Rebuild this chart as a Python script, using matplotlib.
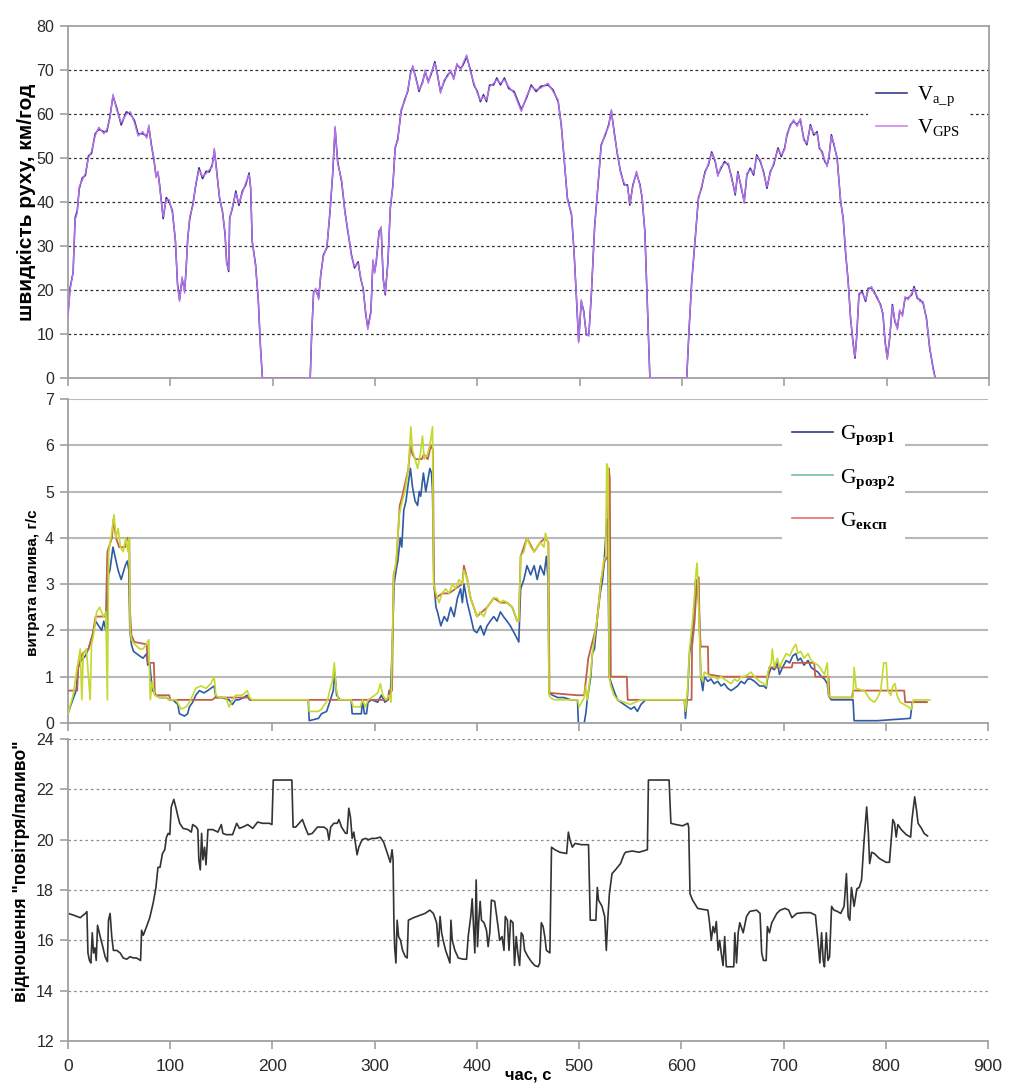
import matplotlib
matplotlib.use("Agg")
import matplotlib.pyplot as plt
from matplotlib.lines import Line2D

# ---------------------------------------------------------------- data
# speed, km/h
t_v = [
    0, 2, 5, 6, 7, 9, 11, 14, 17, 20,
    23, 26.5, 30, 35, 38, 41, 44, 47.5, 52, 57,
    61, 65, 68.5, 73, 77, 79, 81.5, 84, 86, 88,
    89.5, 93, 96, 99, 102, 105, 107, 109, 111.5, 114,
    115.5, 117, 119, 122, 125, 128, 131.5, 135, 138, 141,
    143, 145, 148, 151, 153.5, 155, 157, 158, 160.7, 164,
    167, 170.4, 173.6, 177, 178.5, 180, 183.3, 186, 188, 190,
    236.7, 238, 240, 242, 245, 247, 249.6, 253, 256, 258.6,
    261, 263.5, 267.4, 270.6, 273, 277, 280, 283.5, 286, 288.4,
    291, 293, 296, 298, 299.7, 301.3, 304, 306, 308, 310,
    312.6, 315, 317.5, 319.7, 322.3, 325.5, 329.5, 332, 335, 337,
    340, 343, 346.6, 349, 352, 354.7, 358.5, 361, 364, 367.6,
    371, 374, 377, 380, 383.8, 386, 389.6, 392.8, 396.7, 400,
    403, 406, 409, 412, 416, 419, 422.6, 426.5, 430.6, 436,
    443, 448, 452.6, 457.5, 462, 469, 474, 479, 482, 485,
    488, 492, 494.5, 497, 499, 501.6, 504, 506.5, 509, 511.4,
    514.7, 518, 521, 525, 528.4, 531, 533.7, 537, 540, 543.5,
    546.7, 549, 552, 555.5, 559, 561, 563.7, 566, 568.6, 604.6,
    607, 609.5, 612.7, 616, 619, 622.5, 625.8, 629, 632.4, 635,
    638, 641.5, 645.4, 648.7, 652, 654.6, 658, 660.8, 663.4, 666.7,
    670, 673, 676.5, 679.7, 683, 686.3, 689.5, 693.8, 697, 700.3,
    702.6, 706, 709, 712.4, 715.7, 719, 722, 725.5, 728.8, 732,
    734.3, 737, 739.5, 741.8, 743.5, 746, 748.4, 751.6, 755, 757.5,
    760, 762.4, 764.7, 767, 769, 770.6, 772.9, 776, 779.4, 782,
    785.3, 787.6, 790.8, 794, 796.4, 798.4, 800.6, 803, 805.6, 808,
    810.5, 812.7, 815.4, 818, 821, 824.5, 826.8, 830, 832.4, 835.6,
    838.9, 842, 845.4, 847.4,
]
v_gps = [
    14, 20, 24, 31, 36, 37.5, 43.5, 45, 46.5, 50,
    51.5, 55, 57, 55.5, 56.5, 59, 64.5, 61, 58, 60,
    60.5, 58, 55, 56, 54.5, 57.5, 52.6, 50, 45.5, 47,
    43.5, 36.7, 40.5, 40.5, 37.5, 31.4, 21, 17.4, 23, 19.3,
    25.4, 31.4, 36.7, 39, 44.3, 47.3, 45.8, 46.5, 47.3, 48,
    52.2, 47.3, 41.3, 37.5, 33, 26, 24.6, 36, 39, 42,
    39.7, 42, 44.3, 46.2, 43.5, 31.4, 25.4, 17.8, 7.2, 0,
    0, 9.5, 19.3, 20.4, 17.8, 23.8, 27.6, 30, 37.5, 46.5,
    57.2, 48.8, 45, 37.5, 34.4, 27.6, 25.4, 26, 23, 20,
    14.8, 11, 14.8, 26.9, 23.8, 26.9, 33, 34.4, 22.3, 19.3,
    26, 39, 43.5, 52.6, 54, 61, 63.2, 65.5, 69.3, 71,
    67.8, 65.5, 67, 70, 67, 69.3, 71.5, 69.3, 64.7, 67.8,
    68.5, 70, 67.8, 71.5, 70, 71.5, 73.4, 70, 67, 64.7,
    63.2, 64, 63.2, 66.2, 67, 67.8, 67, 67.8, 66.2, 64.7,
    60.6, 64, 66.2, 65.5, 65.9, 67, 65.1, 63.2, 57.2, 49.6,
    40.5, 37.5, 28.4, 17.8, 8, 17.8, 14.8, 10.2, 9.5, 19.3,
    34.4, 44.3, 52.6, 55.6, 57.2, 61, 55.6, 51, 46.5, 44.3,
    43.5, 39.7, 43.5, 47, 43.5, 41.3, 33, 17.8, 0, 0,
    11.7, 21.6, 31.4, 40.5, 43.5, 46.5, 48.8, 51, 49.6, 45.8,
    48, 48.8, 48.8, 45, 42, 46.5, 43.5, 39.7, 46.5, 47.3,
    46.5, 50.3, 49.6, 46.5, 43.5, 46.5, 48.8, 51.9, 50.7, 51.9,
    55.6, 57.2, 58.7, 57.2, 59, 54, 53.4, 57.2, 55.6, 55.6,
    52.6, 51, 49.6, 48, 50.3, 54.9, 53.4, 49.6, 40.5, 36,
    28.4, 21.6, 14, 8, 4.9, 8.7, 19.3, 19.3, 17.8, 20,
    20.8, 19.3, 18.5, 16.3, 14.8, 8, 4.2, 9.5, 16.3, 13.2,
    11, 15.5, 14, 18.5, 17.8, 19.3, 20.4, 18.5, 17.4, 17.4,
    13.2, 7.2, 1.9, 0,
]
v_ap = [
    14.5, 20.5, 24, 30.5, 36.5, 38, 43, 45.5, 46, 50.5,
    51, 55.5, 56.5, 56, 56, 59.5, 64, 61.5, 57.5, 60.5,
    60, 58.5, 55.5, 55.5, 55, 57, 53, 49.5, 46, 46.5,
    44, 36.2, 41, 40, 38, 31, 21.5, 17.8, 22.5, 19.8,
    25, 31.8, 36.2, 39.5, 44, 47.8, 45.3, 47, 46.8, 48.5,
    51.7, 47.8, 41, 37.8, 32.6, 26.4, 24.2, 36.4, 38.6, 42.5,
    39.2, 42.5, 43.8, 46.6, 43, 31, 25.8, 17.4, 7.5, 0,
    0, 9.2, 19.6, 20, 18.3, 23.4, 28, 29.6, 37.8, 46.1,
    56.8, 49.2, 44.6, 37.9, 34, 28, 25, 26.4, 22.6, 20.4,
    14.4, 11.4, 15.2, 26.5, 24.2, 26.5, 33.4, 34, 22.7, 18.9,
    26.4, 38.6, 43.9, 52.2, 54.4, 60.6, 63.6, 65.1, 69.7, 70.6,
    68.2, 65.1, 67.4, 69.6, 67.4, 68.9, 71.9, 68.9, 65.1, 67.4,
    68.9, 69.6, 68.2, 71.1, 70.4, 71.1, 73, 70.4, 66.6, 65.1,
    62.8, 64.4, 62.8, 66.6, 66.6, 68.2, 66.6, 68.2, 65.8, 65.1,
    61, 63.6, 66.6, 65.1, 66.3, 66.6, 65.5, 62.8, 57.6, 49.2,
    40.9, 37.1, 28.8, 17.4, 8.4, 17.4, 15.2, 9.8, 9.9, 18.9,
    34.8, 43.9, 53, 55.2, 57.6, 60.6, 56, 50.6, 46.9, 43.9,
    43.9, 39.3, 43.9, 46.6, 43.9, 40.9, 33.4, 17.4, 0, 0,
    11.3, 22, 31, 40.9, 43.1, 46.9, 48.4, 51.4, 49.2, 46.2,
    47.6, 49.2, 48.4, 45.4, 41.6, 46.9, 43.1, 40.1, 46.1, 47.7,
    46.1, 50.7, 49.2, 46.9, 43.1, 46.9, 48.4, 52.3, 50.3, 52.3,
    55.2, 57.6, 58.3, 57.6, 58.6, 54.4, 53, 57.6, 55.2, 56,
    52.2, 51.4, 49.2, 48.4, 49.9, 55.3, 53, 50, 40.1, 36.4,
    28, 22, 13.6, 8.4, 4.5, 9.1, 18.9, 19.7, 17.4, 20.4,
    20.4, 19.7, 18.1, 16.7, 14.4, 8.4, 4.6, 9.1, 16.7, 12.8,
    11.4, 15.1, 14.4, 18.1, 18.2, 18.9, 20.8, 18.1, 17.8, 17,
    13.6, 6.8, 2.3, 0,
]

# fuel consumption, g/s: (time, value) per series
g_rozr1 = [
    (0, 0.2), (3, 0.4), (8, 0.7), (10, 1.2), (13, 1.35), (17, 1.45), (20, 1.6), (24, 1.9), (27, 2.2), (30, 2.1),
    (33, 2.0), (35, 2.2), (37, 2.0), (38.5, 2.0), (39.5, 3.2), (41, 3.3), (44, 3.8), (46, 3.6), (49, 3.3), (52, 3.1),
    (56, 3.4), (58, 3.5), (59.5, 3.3), (60.5, 2.0), (62, 1.7), (64, 1.55), (67, 1.5), (70, 1.45), (73.5, 1.4), (77, 1.5),
    (78, 1.25), (80, 1.3), (81.5, 0.9), (83, 0.7), (86, 0.6), (89.6, 0.55), (96, 0.55), (99.4, 0.5), (102.6, 0.5), (107.4, 0.4),
    (109, 0.2), (114, 0.15), (117, 0.2), (118.8, 0.35), (122, 0.45), (125, 0.6), (128.5, 0.7), (133, 0.65), (136.6, 0.7), (139.8, 0.75),
    (143, 0.8), (144.7, 0.55), (150, 0.55), (157.6, 0.5), (160.8, 0.4), (164, 0.5), (167, 0.5), (172, 0.55), (175, 0.6), (177.7, 0.5),
    (235, 0.5), (236, 0.05), (245, 0.1), (248, 0.2), (253, 0.25), (256, 0.45), (259.5, 0.7), (261, 1.1), (262.8, 0.6), (266, 0.5),
    (277, 0.5), (278, 0.2), (287, 0.2), (288, 0.5), (290, 0.2), (292, 0.2), (293.5, 0.45), (297, 0.5), (303, 0.45), (306.5, 0.6),
    (310, 0.45), (313, 0.5), (315.5, 0.7), (317, 1.5), (319, 3.0), (321, 3.3), (322.7, 3.5), (325, 4.0), (326.5, 3.8), (328.5, 4.6),
    (330.7, 4.8), (333, 5.2), (335, 5.5), (337, 5.1), (339.5, 4.8), (342, 4.7), (343.6, 5.0), (345, 4.9), (347.7, 5.4), (350, 5.0),
    (351.6, 5.2), (354, 5.5), (355.6, 5.4), (356.6, 5.0), (358, 3.0), (360, 2.5), (361.5, 2.4), (364.7, 2.1), (368, 2.3), (371, 2.2),
    (374.4, 2.5), (377.7, 2.3), (381, 2.7), (384, 2.9), (385.8, 2.6), (387.4, 3.0), (390.6, 2.6), (393.9, 2.3), (397, 2.0), (400, 1.95),
    (403.6, 2.1), (406.8, 1.9), (410, 2.1), (413, 2.2), (416.5, 2.3), (419.7, 2.2), (423, 2.4), (426, 2.3), (429.5, 2.2), (432.7, 2.1),
    (437.6, 1.9), (441, 1.75), (442.8, 2.9), (446, 3.1), (449, 3.4), (452.6, 3.2), (456, 3.4), (459, 3.1), (462, 3.4), (465.7, 3.2),
    (468, 3.6), (469.6, 3.1), (470.6, 0.65), (474, 0.6), (479, 0.55), (485, 0.55), (492, 0.5), (498.4, 0.5), (499.3, 0.0), (505, 0.0),
    (506.5, 0.2), (508, 0.5), (511.4, 1.0), (513, 1.5), (515, 1.6), (518, 2.3), (520.6, 2.8), (523, 3.1), (524.5, 3.5), (526, 4.0),
    (527, 4.4), (528, 4.4), (529.4, 1.0), (534, 0.7), (537.6, 0.5), (544, 0.4), (550.6, 0.3), (554, 0.35), (557, 0.25), (560.5, 0.4),
    (565, 0.5), (603, 0.5), (604, 0.1), (606, 0.6), (608, 1.5), (611, 2.0), (612.7, 2.5), (614, 3.1), (616, 3.0), (617.6, 2.3),
    (619, 1.0), (621, 0.7), (622.5, 1.0), (626, 0.9), (629, 0.95), (632, 0.85), (635.6, 0.9), (638.9, 0.8), (642, 0.85), (645.4, 0.75),
    (648.7, 0.7), (652, 0.75), (655, 0.8), (658.5, 0.9), (661.8, 0.85), (665, 0.95), (668, 0.95), (671.6, 0.9), (676.5, 0.8), (680.7, 0.8),
    (683, 0.75), (684.6, 1.0), (688, 1.2), (691, 1.15), (694, 1.3), (696, 1.05), (699, 1.2), (702.6, 1.35), (706, 1.3), (709, 1.45),
    (712, 1.5), (714, 1.35), (716.7, 1.4), (720, 1.25), (724, 1.35), (727, 1.2), (730, 1.15), (733.7, 1.1), (737, 1.0), (740, 0.95),
    (742.8, 0.85), (744, 0.6), (746.7, 0.5), (768, 0.5), (769, 0.05), (792, 0.05), (824, 0.1), (826, 0.45), (840, 0.45),
]
g_rozr2 = [
    (0, 0.2), (5, 0.6), (9, 1.2), (12, 1.6), (13.5, 0.5), (15, 1.5), (18, 1.6), (21.7, 0.5), (23, 1.7), (25, 1.9),
    (28, 2.4), (31, 2.5), (34.6, 2.3), (37, 2.4), (38.5, 0.5), (39.8, 3.7), (42.7, 4.1), (45, 4.5), (47, 4.0), (49, 4.2),
    (51.4, 3.8), (54, 3.7), (56.6, 4.0), (58.5, 3.7), (59.8, 4.0), (60.8, 2.0), (62, 1.8), (65.3, 1.7), (70, 1.6), (73.4, 1.6),
    (76.6, 1.7), (79, 1.8), (80.5, 0.5), (82.4, 0.9), (84.8, 0.6), (89.6, 0.55), (96, 0.55), (99.4, 0.5), (105.8, 0.5), (110.6, 0.3),
    (115.5, 0.35), (118.8, 0.45), (122, 0.6), (125, 0.75), (130, 0.8), (135, 0.75), (139.8, 0.85), (143, 1.0), (144.6, 0.6), (148, 0.55),
    (154.4, 0.55), (157.6, 0.35), (160.8, 0.5), (164, 0.6), (170.5, 0.6), (175.4, 0.7), (177.7, 0.55), (180, 0.5), (235, 0.5), (236, 0.25),
    (245, 0.25), (248, 0.3), (251, 0.4), (254, 0.5), (256, 0.7), (258.5, 0.9), (260.6, 1.3), (262, 0.8), (264.5, 0.5), (277, 0.5),
    (279, 0.35), (286, 0.35), (288, 0.5), (291, 0.35), (293.5, 0.5), (297, 0.55), (303, 0.65), (305.6, 0.85), (308, 0.6), (311, 0.5),
    (314.4, 0.6), (316, 0.45), (318.7, 3.2), (321, 3.5), (324, 4.5), (327, 4.8), (329.5, 5.0), (333, 5.5), (335.4, 6.4), (337, 5.9),
    (339.5, 5.7), (342, 5.5), (344.6, 5.8), (346.8, 6.2), (348.5, 5.7), (351.6, 5.8), (354, 6.0), (356.6, 6.4), (357.6, 3.0), (360, 2.8),
    (363, 2.6), (366, 2.8), (369.5, 2.9), (372.7, 2.8), (376, 3.0), (379, 2.9), (382.4, 3.1), (385.7, 3.0), (387.3, 3.3), (390.6, 3.1),
    (393.8, 2.7), (397, 2.5), (400, 2.3), (403, 2.4), (406.8, 2.3), (410, 2.5), (413, 2.6), (416.6, 2.7), (419.7, 2.7), (423, 2.6),
    (426, 2.65), (429.6, 2.6), (434.6, 2.5), (439.5, 2.2), (441, 2.2), (442.8, 3.6), (446, 3.7), (449, 4.0), (452.6, 3.8), (456, 3.7),
    (459, 3.8), (462, 3.9), (465.7, 3.8), (467, 4.1), (469.6, 3.9), (470.6, 0.6), (472, 0.55), (475.5, 0.5), (498.4, 0.5), (500, 0.35),
    (505, 0.55), (506.5, 0.8), (508, 0.5), (511.4, 1.1), (513, 1.5), (516, 2.0), (518, 2.3), (521, 3.0), (524, 3.5), (526, 3.6),
    (527, 5.6), (528.4, 5.5), (529.4, 1.0), (531, 0.8), (534, 0.6), (537.6, 0.5), (544, 0.45), (550, 0.4), (555, 0.45), (560, 0.5),
    (603, 0.5), (604, 0.25), (606, 0.7), (608, 1.6), (611, 2.2), (613, 2.8), (614.5, 3.3), (615.5, 3.45), (617, 2.5), (619, 1.0),
    (621, 0.9), (622.5, 1.1), (626, 1.05), (629, 1.0), (632, 1.0), (635.6, 0.95), (638.9, 1.0), (642, 0.95), (645.4, 0.9), (648.7, 0.85),
    (652, 0.95), (655, 0.9), (658.5, 1.0), (661.8, 1.0), (665, 1.05), (668, 1.1), (671.6, 1.0), (676.5, 0.9), (680.7, 0.85), (683, 0.8),
    (684.6, 1.1), (688, 1.3), (689, 1.6), (691, 1.2), (694, 1.4), (696, 1.2), (699, 1.35), (702.6, 1.5), (706, 1.45), (709, 1.6),
    (712, 1.7), (714, 1.5), (716.7, 1.55), (720, 1.4), (724, 1.5), (727, 1.35), (730, 1.3), (733.7, 1.25), (737, 1.15), (740, 1.05),
    (742.8, 1.3), (744, 0.6), (746.7, 0.55), (768, 0.55), (769, 1.2), (771, 0.75), (775, 0.72), (779, 0.7), (782, 0.6), (785, 0.5),
    (789, 0.45), (792, 0.55), (795, 0.7), (798, 1.3), (800.5, 1.3), (802, 0.7), (805, 0.6), (807, 0.8), (809, 0.85), (811, 0.6),
    (814, 0.45), (818, 0.4), (822, 0.35), (825, 0.3), (827, 0.5), (843, 0.5),
]
g_eksp = [
    (0, 0.7), (9, 0.7), (10, 1.2), (14, 1.5), (20, 1.6), (24, 1.9), (27, 2.3), (37, 2.3), (38.5, 3.7), (43, 4.0),
    (44.5, 4.4), (47, 4.0), (50, 3.8), (56, 3.8), (58, 4.0), (60, 4.0), (60.5, 2.5), (62, 1.9), (65, 1.75), (77, 1.7),
    (78, 1.3), (84, 1.3), (85, 0.6), (99, 0.6), (100, 0.5), (141, 0.5), (144, 0.55), (177, 0.55), (178, 0.5), (313, 0.5),
    (314, 0.7), (317, 0.7), (318.5, 3.2), (321, 3.4), (324.5, 4.7), (327, 4.9), (330, 5.2), (333, 5.5), (335, 6.0), (337, 5.8),
    (340, 5.7), (346, 5.7), (348, 5.8), (352, 5.7), (355, 6.0), (357, 5.9), (358, 3.0), (360, 2.7), (366, 2.8), (372.7, 2.8),
    (379, 2.9), (385.7, 3.0), (387.3, 3.4), (390.6, 3.1), (393.8, 2.7), (397, 2.5), (400, 2.3), (410, 2.5), (416.6, 2.7), (423, 2.6),
    (429.6, 2.6), (434.6, 2.5), (439.5, 2.2), (441, 2.2), (442.8, 3.6), (449, 4.0), (456, 3.7), (462, 3.9), (467, 4.0), (470, 3.9),
    (471, 0.65), (498, 0.6), (505, 0.6), (509, 1.4), (517, 2.1), (521, 3.0), (525, 3.5), (528, 3.6), (529, 5.5), (530, 5.3),
    (531, 1.0), (546.7, 1.0), (547.5, 0.5), (610, 0.5), (610.5, 1.65), (613, 2.2), (615, 3.0), (617, 3.15), (618, 2.0), (619, 1.65),
    (626, 1.65), (626.5, 1.05), (640, 1.0), (685, 1.0), (686, 1.2), (708, 1.2), (709, 1.3), (730, 1.3), (731, 1.0), (744, 1.0),
    (745, 0.55), (767, 0.55), (768, 0.7), (818, 0.7), (819, 0.45), (840, 0.45),
]

# air/fuel ratio: (time, value)
air_fuel = [
    (0, 17.07), (5.5, 17.0), (12, 16.9), (17, 17.07), (18.5, 17.14), (19.5, 15.5), (21, 15.2), (22.4, 15.1), (23.7, 16.3), (25, 15.5),
    (26.3, 15.7), (27.6, 15.2), (28.9, 16.6), (31.5, 16.15), (34, 15.75), (36.3, 15.35), (38.6, 15.15), (39.6, 16.8), (41.2, 17.07), (42.8, 16.15),
    (44.4, 15.6), (47.7, 15.6), (51, 15.5), (54, 15.3), (57.4, 15.25), (60.7, 15.35), (64, 15.3), (67, 15.3), (71, 15.2), (72, 16.4),
    (73.6, 16.2), (76.9, 16.55), (80, 16.9), (83.4, 17.5), (86, 18.1), (88, 18.9), (90, 18.9), (92.4, 19.45), (94.7, 19.6), (96.3, 20.1),
    (98, 20.25), (99.6, 20.2), (101, 21.3), (103.5, 21.6), (105.4, 21.3), (107.7, 20.9), (109.3, 20.65), (112.5, 20.45), (117.4, 20.4), (120.6, 20.3),
    (122, 20.6), (125.5, 20.5), (127, 20.4), (128, 19.2), (129.4, 18.8), (130.7, 20.25), (132, 19.2), (133.6, 19.7), (135, 19.0), (136.9, 20.4),
    (141.7, 20.4), (146.6, 20.3), (150, 20.6), (151.5, 20.25), (154.7, 20.2), (161, 20.2), (165, 20.65), (167.7, 20.45), (171, 20.5), (175.8, 20.6),
    (180.7, 20.45), (185.5, 20.7), (190.4, 20.65), (197, 20.65), (199.5, 20.6), (200.8, 22.37), (219, 22.37), (220.2, 20.5), (222.8, 20.5), (226, 20.65),
    (229.3, 20.8), (232, 20.5), (235, 20.2), (239, 20.25), (244, 20.5), (250.4, 20.5), (253.6, 20.4), (255.3, 20.0), (257, 20.5), (260, 20.65),
    (263.4, 20.65), (265, 20.8), (267.6, 20.5), (271.5, 20.25), (273, 20.25), (274.7, 21.25), (276.3, 20.9), (278, 20.05), (279.6, 20.3), (281.2, 19.85),
    (282.8, 19.4), (284.5, 19.7), (287.7, 20.0), (291, 20.05), (294, 20.0), (297.4, 20.05), (300.7, 20.05), (305.5, 20.1), (308.8, 19.9), (312, 19.5),
    (315.3, 19.1), (317, 19.6), (318, 19.2), (318.8, 16.8), (319.5, 15.75), (320.8, 15.1), (322, 16.8), (323.4, 16.15), (325.3, 16.0), (327.3, 15.6),
    (330, 15.35), (331.8, 15.3), (333, 16.8), (338, 16.9), (344.5, 17.0), (349.3, 17.07), (354, 17.2), (357.4, 17.07), (360.6, 16.7), (362.3, 15.75),
    (364, 16.95), (365.5, 16.3), (367, 16.0), (369.4, 15.6), (372, 15.3), (373.6, 15.1), (374.6, 16.8), (375.9, 16.0), (378.5, 15.6), (381.8, 15.3),
    (386.6, 15.25), (389.9, 15.25), (391.5, 16.15), (394, 16.95), (395.4, 17.65), (396.7, 16.55), (398, 15.5), (399.3, 18.4), (400.6, 15.75), (401.9, 16.8),
    (403.2, 17.55), (404.5, 16.8), (407, 16.7), (409.4, 16.4), (411, 15.75), (412.6, 16.3), (414.2, 17.6), (417.4, 17.55), (419, 17.07), (420.7, 16.55),
    (422.3, 16.0), (424.6, 16.15), (426.5, 15.6), (427.8, 16.95), (429.8, 16.8), (431.4, 15.6), (433, 16.8), (435.3, 16.7), (436.8, 15.0), (438.5, 16.15),
    (440, 15.5), (441.8, 15.0), (443.4, 16.3), (445, 16.2), (446.7, 15.6), (450, 15.35), (453.3, 15.15), (456.6, 15.0), (459.9, 14.95), (461.5, 15.1),
    (463, 16.7), (464.8, 16.55), (466.4, 16.15), (468, 15.6), (471.4, 15.5), (473, 19.7), (476.3, 19.6), (481.2, 19.5), (487.8, 19.45), (489.5, 20.3),
    (491, 20.0), (493.4, 19.7), (496, 19.85), (502.6, 19.8), (509.2, 19.8), (510.9, 16.8), (516.4, 16.8), (517.8, 18.1), (519, 17.6), (522.4, 17.35),
    (525, 16.95), (526.6, 15.6), (528, 16.8), (529.6, 17.85), (532.2, 18.65), (535.5, 18.8), (540.5, 19.05), (543.8, 19.4), (545.4, 19.5), (552, 19.55),
    (558.6, 19.5), (566.8, 19.6), (567.8, 22.37), (588, 22.37), (589.8, 20.65), (594.7, 20.6), (601.3, 20.55), (606.3, 20.65), (607.2, 20.5), (608.5, 17.85),
    (611, 17.6), (616, 17.27), (621, 17.23), (626, 17.2), (627.6, 16.7), (629.3, 16.0), (631, 16.55), (632.6, 16.3), (634.2, 16.75), (636, 15.6),
    (637.5, 16.0), (639, 15.5), (640.8, 15.0), (642.4, 16.15), (644, 14.95), (647.4, 14.95), (651.3, 14.95), (652.3, 16.3), (654, 15.1), (655.6, 16.3),
    (657.2, 16.7), (660.5, 16.3), (663.8, 16.95), (667, 17.15), (673.7, 17.2), (677, 17.07), (678.6, 15.5), (680.3, 15.2), (683, 15.2), (684.2, 16.55),
    (686.2, 16.3), (688.5, 16.7), (693.4, 17.07), (696.7, 17.2), (701.6, 17.27), (705, 17.2), (708.2, 16.9), (713, 17.07), (719.7, 17.1), (726.3, 17.1),
    (731.2, 17.0), (733.6, 16.0), (735.5, 15.1), (737.2, 16.3), (738.8, 15.2), (740, 14.95), (741.8, 16.3), (743.4, 15.2), (745, 15.35), (747, 17.35),
    (749.3, 17.2), (752.6, 17.15), (755.9, 17.07), (759.2, 17.35), (761.5, 18.65), (763.2, 16.95), (764.8, 16.8), (766.4, 18.1), (769, 17.35), (771.7, 18.05),
    (774, 18.1), (776.3, 18.4), (779, 20.1), (781.3, 21.3), (783, 20.25), (784.2, 19.05), (786.2, 19.5), (788.8, 19.45), (793.8, 19.25), (800.3, 19.1),
    (803.6, 19.1), (805.3, 20.0), (806.9, 20.8), (808.6, 20.65), (810.2, 20.1), (811.8, 20.6), (815.1, 20.4), (820, 20.2), (824.3, 20.1), (825.6, 20.8),
    (828.3, 21.7), (830, 21.2), (831.6, 20.65), (834.9, 20.45), (837.5, 20.25), (840.8, 20.15),
]

x_ticks = list(range(0, 901, 100))
v_ticks = list(range(0, 81, 10))
g_ticks = list(range(0, 8))
r_ticks = list(range(12, 25, 2))

# ---------------------------------------------------------------- style
plt.rcParams["font.family"] = ["Liberation Sans", "DejaVu Sans"]
plt.rcParams["mathtext.fontset"] = "custom"
plt.rcParams["mathtext.rm"] = "Liberation Serif"
plt.rcParams["mathtext.bf"] = "Liberation Serif:bold"
plt.rcParams["mathtext.it"] = "Liberation Serif:italic"

W, H = 1009, 1088
fig = plt.figure(figsize=(W / 100, H / 100), dpi=100)


def box(left, top, right, bottom):
    return [left / W, 1 - bottom / H, (right - left) / W, (bottom - top) / H]


ax1 = fig.add_axes(box(68, 26, 989, 378))
ax2 = fig.add_axes(box(68, 399, 988, 723))
ax3 = fig.add_axes(box(68, 739, 988, 1041))

SPINE = "#a0a0a0"
TICKTXT = "#2a2a2a"

for ax in (ax1, ax2, ax3):
    ax.set_xlim(0, 900)
    ax.set_xticks(x_ticks)
    for s in ax.spines.values():
        s.set_color(SPINE)
        s.set_linewidth(1.3)
    ax.tick_params(direction="out", length=6, width=1.2, color=SPINE,
                   labelsize=11.5, labelcolor=TICKTXT, pad=4)
    ax.set_facecolor("white")

# --- speed panel
ax1.set_ylim(0, 80)
ax1.set_yticks(v_ticks)
ax1.tick_params(axis="x", labelbottom=False)
for y in v_ticks[1:-1]:
    ax1.axhline(y, color="#303030", lw=0.9, ls=(0, (2.2, 2.2)), zorder=0.5)
ax1.plot(t_v, v_ap, color="#2c2c88", lw=1.1, zorder=2)
ax1.plot(t_v, v_gps, color="#b672e8", lw=1.0, zorder=3)
h1 = [Line2D([], [], color="#3a3a8c", lw=1.2), Line2D([], [], color="#c88ae8", lw=1.2)]
leg1 = ax1.legend(h1, [r"$\mathrm{V}_{\mathrm{a\_p}}$", r"$\mathrm{V}_{\mathrm{GPS}}$"],
                  loc="upper left", bbox_to_anchor=(0.869, 0.855), frameon=True,
                  facecolor="white", edgecolor="none", framealpha=1, fancybox=False,
                  fontsize=15, handlelength=1.5, handletextpad=0.5, labelspacing=0.45,
                  borderpad=0.35, borderaxespad=0)
leg1.set_zorder(5)

# --- fuel panel
ax2.set_ylim(0, 7)
ax2.set_yticks(g_ticks)
ax2.tick_params(axis="x", labelbottom=False)
ax2.spines["top"].set_visible(False)
ax2.spines["right"].set_visible(False)
for y in g_ticks[1:]:
    ax2.axhline(y, color="#b8b8b8", lw=1.5, zorder=0.5)
ax2.plot([p[0] for p in g_rozr1], [p[1] for p in g_rozr1], color="#2f5aa5", lw=1.2, zorder=2)
ax2.plot([p[0] for p in g_eksp], [p[1] for p in g_eksp], color="#c0604a", lw=1.3, zorder=3)
ax2.plot([p[0] for p in g_rozr2], [p[1] for p in g_rozr2], color="#c4d82e", lw=1.2, zorder=4)
h2 = [Line2D([], [], color="#303a88", lw=1.2),
      Line2D([], [], color="#74bfa8", lw=1.2),
      Line2D([], [], color="#e07070", lw=1.2)]
leg2 = ax2.legend(h2, [r"$\mathrm{G}_{\mathbf{розр1}}$", r"$\mathrm{G}_{\mathbf{розр2}}$",
                       r"$\mathrm{G}_{\mathbf{експ}}$"],
                  loc="upper left", bbox_to_anchor=(0.776, 0.955), frameon=True,
                  facecolor="white", edgecolor="none", framealpha=1, fancybox=False,
                  fontsize=15.5, handlelength=1.9, handletextpad=0.35, labelspacing=0.9,
                  borderpad=0.45, borderaxespad=0)
leg2.set_zorder(5)

# --- air/fuel ratio panel
ax3.set_ylim(12, 24)
ax3.set_yticks(r_ticks)
ax3.spines["top"].set_visible(False)
ax3.spines["right"].set_visible(False)
for y in r_ticks[1:]:
    ax3.axhline(y, color="#8a8a8a", lw=0.9, ls=(0, (2, 2.5)), zorder=0.5)
ax3.plot([p[0] for p in air_fuel], [p[1] for p in air_fuel], color="#333333", lw=1.2, zorder=2)
ax3.tick_params(axis="x", labelsize=12.5, pad=7)

# --- axis titles
fig.text(27 / W, 1 - 202 / H, "швидкість руху, км/год", rotation=90, ha="center",
         va="center", fontsize=15, fontweight="bold")
fig.text(33 / W, 1 - 583 / H, "витрата палива, г/с", rotation=90, ha="center",
         va="center", fontsize=11, fontweight="bold")
fig.text(21 / W, 1 - 871 / H, "відношення \"повітря/паливо\"", rotation=90, ha="center",
         va="center", fontsize=12.7, fontweight="bold")
fig.text(528 / W, 1 - 1075 / H, "час, с", ha="center", va="center",
         fontsize=12, fontweight="bold")

fig.savefig("out.png", dpi=100, facecolor="white")
